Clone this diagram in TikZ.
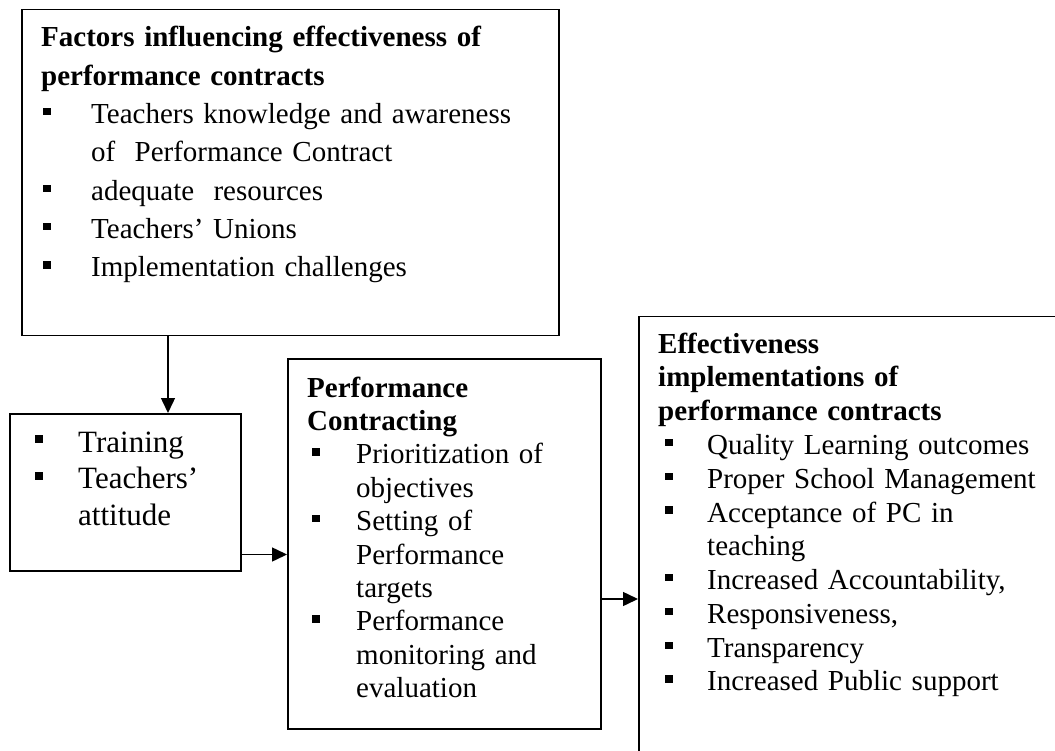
\documentclass[tikz,border=0pt]{standalone}
\usepackage{fontspec}
\setmainfont{Liberation Serif}
\usetikzlibrary{arrows.meta}
\newlength{\bltoff}
\newlength{\bltgap}
\newcommand{\sqbullet}{\rule[0.28em]{0.26em}{0.26em}}
\newcommand{\pcitem}{\hspace*{\bltoff}\makebox[\bltgap][l]{\sqbullet}}
\newcommand{\pcmore}{\hspace*{\bltoff}\hspace*{\bltgap}}
\tikzset{
  pcbox/.style={draw, line width=1.5pt, anchor=north west, inner sep=0pt},
  pctext/.style={anchor=base west, inner sep=0pt, align=left},
  pcarrow/.style={line width=1.5pt, -{Triangle[length=15pt,width=14pt]}},
}
\begin{document}
\begin{tikzpicture}[x=1pt, y=-1pt]
\useasboundingbox (0,0) rectangle (1055,751);
\clip (0,0) rectangle (1055,751);
% boxes
\node[pcbox, minimum width=537pt, minimum height=326pt] (factors) at (21,9) {};
\node[pcbox, minimum width=231pt, minimum height=157pt] (train) at (9,413) {};
\node[pcbox, minimum width=313pt, minimum height=370pt] (perf) at (287,358) {};
\node[pcbox, minimum width=480pt, minimum height=480pt] (effect) at (638,316) {};
% texts
\node[pctext, text width=520pt, font=\fontsize{29}{38.3}\selectfont] (factorstext) at (41,47) {%
  \setlength{\bltoff}{2pt}\setlength{\bltgap}{48pt}%
  \textbf{Factors influencing effectiveness of}\\
  \textbf{performance contracts}\\
  \pcitem Teachers knowledge and awareness\\
  \pcmore of\ \ Performance Contract\\
  \pcitem adequate\ \ resources\\
  \pcitem Teachers' Unions\\
  \pcitem Implementation challenges};
\node[pctext, text width=220pt, font=\fontsize{31}{36.5}\selectfont] (traintext) at (35,452) {%
  \setlength{\bltoff}{0pt}\setlength{\bltgap}{43pt}%
  \pcitem Training\\
  \pcitem Teachers'\\
  \pcmore attitude};
\node[pctext, text width=300pt, font=\fontsize{29}{33.4}\selectfont] (perftext) at (307,397) {%
  \setlength{\bltoff}{5pt}\setlength{\bltgap}{44pt}%
  \textbf{Performance}\\
  \textbf{Contracting}\\
  \pcitem Prioritization of\\
  \pcmore objectives\\
  \pcitem Setting of\\
  \pcmore Performance\\
  \pcmore targets\\
  \pcitem Performance\\
  \pcmore monitoring and\\
  \pcmore evaluation};
\node[pctext, text width=420pt, font=\fontsize{29}{33.8}\selectfont] (effecttext) at (658,353) {%
  \setlength{\bltoff}{7pt}\setlength{\bltgap}{42pt}%
  \textbf{Effectiveness}\\
  \textbf{implementations of}\\
  \textbf{performance contracts}\\
  \pcitem Quality Learning outcomes\\
  \pcitem Proper School Management\\
  \pcitem Acceptance of PC in\\
  \pcmore teaching\\
  \pcitem Increased Accountability,\\
  \pcitem Responsiveness,\\
  \pcitem Transparency\\
  \pcitem Increased Public support};
% arrows
\draw[pcarrow] ([xshift=147pt]factors.south west) -- ([xshift=159pt]train.north west);
\draw[pcarrow] ([yshift=17pt]train.south east) -- ([yshift=17pt]train.south east -| perf.west);
\draw[pcarrow] ([yshift=-241pt]perf.north east) -- ([yshift=-241pt]perf.north east -| effect.west);
\end{tikzpicture}
\end{document}
